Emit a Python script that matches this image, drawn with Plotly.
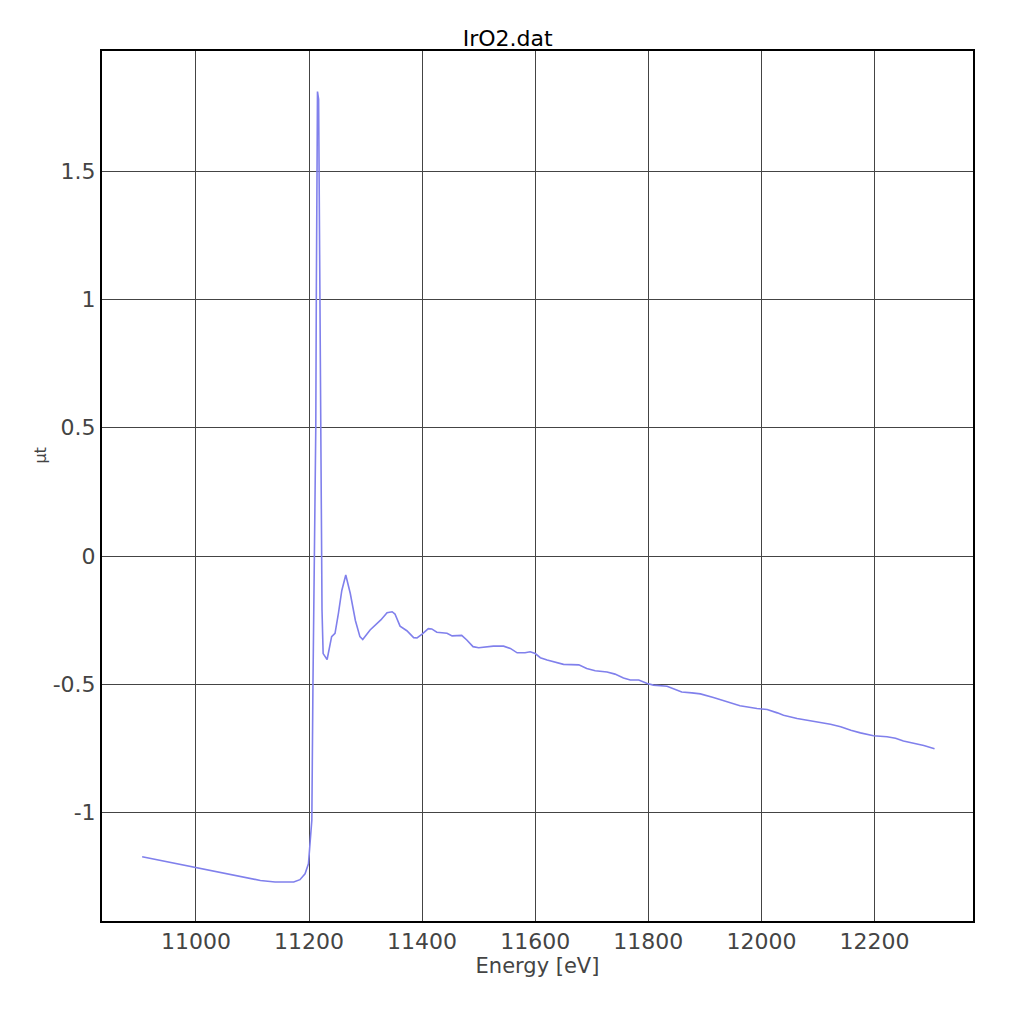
import plotly.graph_objects as go

# IrO2 XAS スペクトル
energy = [10905, 11000, 11066, 11114, 11140, 11173, 11184, 11193, 11199, 11202,
          11205, 11207, 11210, 11212, 11213, 11215, 11217, 11218, 11220, 11222,
          11223, 11225, 11232, 11240, 11246, 11252, 11258, 11265, 11273, 11282,
          11290, 11295, 11308, 11327, 11338, 11347, 11352, 11361, 11373, 11385,
          11391, 11400, 11411, 11417, 11426, 11444, 11453, 11470, 11479, 11490,
          11500, 11526, 11544, 11556, 11568, 11582, 11591, 11600, 11609, 11621,
          11635, 11650, 11677, 11691, 11706, 11727, 11741, 11756, 11768, 11783,
          11798, 11809, 11833, 11845, 11859, 11877, 11892, 11915, 11939, 11962,
          11992, 12010, 12028, 12039, 12063, 12086, 12104, 12122, 12140, 12158,
          12175, 12198, 12222, 12237, 12251, 12269, 12287, 12306]
mut = [-1.172, -1.215, -1.244, -1.264, -1.270, -1.270, -1.261, -1.238, -1.199, -1.107,
       -1.029, -0.50, 0.00, 0.50, 1.05, 1.81, 1.78, 1.41, 0.66, 0.09,
       -0.21, -0.38, -0.403, -0.314, -0.301, -0.223, -0.134, -0.074, -0.146, -0.251,
       -0.314, -0.325, -0.288, -0.249, -0.221, -0.217, -0.226, -0.273, -0.291, -0.318,
       -0.319, -0.304, -0.283, -0.284, -0.297, -0.301, -0.311, -0.309, -0.327, -0.353,
       -0.357, -0.351, -0.351, -0.360, -0.377, -0.377, -0.373, -0.380, -0.396, -0.405,
       -0.414, -0.422, -0.424, -0.438, -0.447, -0.452, -0.460, -0.475, -0.483, -0.483,
       -0.497, -0.503, -0.507, -0.517, -0.530, -0.533, -0.537, -0.551, -0.568, -0.583,
       -0.594, -0.598, -0.611, -0.620, -0.633, -0.642, -0.647, -0.655, -0.665, -0.679,
       -0.689, -0.700, -0.704, -0.710, -0.721, -0.730, -0.738, -0.751]

x_ticks = [11000, 11200, 11400, 11600, 11800, 12000, 12200]
y_ticks = [-1, -0.5, 0, 0.5, 1, 1.5]
y_ticktext = ['-1', '-0.5', '0', '0.5', '1', '1.5']

FONT = "DejaVu Sans"

fig = go.Figure()
fig.add_trace(go.Scatter(x=energy, y=mut, mode='lines',
                         line=dict(color='rgb(128,128,236)', width=1.6),
                         showlegend=False))

axis_common = dict(showline=True, linecolor='black', linewidth=2, mirror=True,
                   showgrid=True, gridcolor='#444444', gridwidth=1,
                   zeroline=False, ticks='',
                   tickfont=dict(family=FONT, size=22, color='#444444'))

fig.update_xaxes(range=[10834, 12374], tickvals=x_ticks, ticktext=[str(t) for t in x_ticks],
                 title=dict(text='Energy [eV]', font=dict(family=FONT, size=21, color='#444444'),
                            standoff=4),
                 **axis_common)
fig.update_yaxes(range=[-1.422, 1.968], tickvals=y_ticks, ticktext=y_ticktext,
                 **axis_common)

# µt ラベル（中央ではなく少し上）
fig.add_annotation(text='µt', xref='paper', yref='paper', x=-0.07, y=0.535,
                   xanchor='center', textangle=-90, showarrow=False,
                   font=dict(family=FONT, size=16, color='#444444'))

fig.update_layout(
    width=1024, height=1024,
    margin=dict(l=94, r=59, t=43, b=111),
    paper_bgcolor='white', plot_bgcolor='white',
    title=dict(text='IrO2.dat', x=0.488, xanchor='center', y=1 - 30 / 1024, yanchor='middle',
               font=dict(family=FONT, size=22, color='black')),
)

fig.write_html("out.html")
